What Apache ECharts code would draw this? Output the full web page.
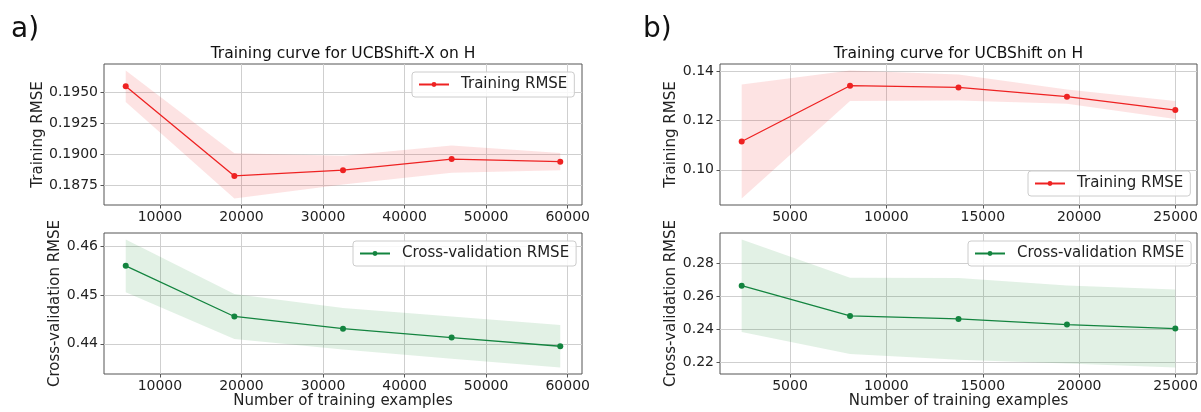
<!DOCTYPE html>
<html>
<head>
<meta charset="utf-8">
<script src="https://cdn.jsdelivr.net/npm/echarts@6/dist/echarts.min.js"></script>
<style>
  html, body { margin: 0; padding: 0; background: #fff; }
  #chart { width: 1201px; height: 412px; }
</style>
</head>
<body>
<div id="chart"></div>
<script>
// a) UCBShift-X on H : learning curve (mean and spread per training size)
const sizesA      = [5810, 19130, 32450, 45770, 59090];
const trainMeanA  = [0.19552, 0.18828, 0.18874, 0.18964, 0.18943];
const trainStdA   = [0.00127, 0.00183, 0.00116, 0.00110, 0.00069];
const cvMeanA     = [0.45593, 0.44559, 0.44309, 0.44128, 0.43951];
const cvStdA      = [0.00540, 0.00459, 0.00423, 0.00430, 0.00436];

// b) UCBShift on H
const sizesB      = [2495, 8115, 13740, 19365, 24985];
const trainMeanB  = [0.11147, 0.13410, 0.13341, 0.12966, 0.12424];
const trainStdB   = [0.02316, 0.00621, 0.00526, 0.00289, 0.00368];
const cvMeanB     = [0.26648, 0.24812, 0.24630, 0.24285, 0.24042];
const cvStdB      = [0.02819, 0.02322, 0.02485, 0.02376, 0.02376];

// tick positions
const xTicksA      = [10000, 20000, 30000, 40000, 50000, 60000];
const xTicksB      = [5000, 10000, 15000, 20000, 25000];
const yTicksTrainA = [0.1875, 0.1900, 0.1925, 0.1950];
const yTicksCvA    = [0.44, 0.45, 0.46];
const yTicksTrainB = [0.10, 0.12, 0.14];
const yTicksCvB    = [0.22, 0.24, 0.26, 0.28];

const TITLE_A = 'Training curve for UCBShift-X on H';
const TITLE_B = 'Training curve for UCBShift on H';
const X_NAME = 'Number of training examples';
const TRAIN_NAME = 'Training RMSE';
const CV_NAME = 'Cross-validation RMSE';

const FONT = 'DejaVu Sans';
const RED = '#ee2222';
const RED_FILL = 'rgba(240,40,40,0.13)';
const GREEN = '#13843f';
const GREEN_FILL = 'rgba(20,140,40,0.12)';

// axis range with a 5% margin around the data (as matplotlib autoscale does)
function padded(lo, hi) {
  const d = (hi - lo) * 0.05;
  return [lo - d, hi + d];
}

const grids = [];
const xAxes = [];
const yAxes = [];
const series = [];
const legends = [];

function panel(cfg) {
  const i = grids.length;
  grids.push({
    left: cfg.left, top: cfg.top, width: cfg.width, height: 141,
    show: true, borderColor: '#555', borderWidth: 1, backgroundColor: 'transparent'
  });
  const lows = cfg.mean.map((m, k) => m - cfg.std[k]);
  const highs = cfg.mean.map((m, k) => m + cfg.std[k]);
  const xr = padded(Math.min(...cfg.sizes), Math.max(...cfg.sizes));
  const yr = padded(Math.min(...lows), Math.max(...highs));

  xAxes.push({
    type: 'value', gridIndex: i, min: xr[0], max: xr[1],
    axisLine: { show: false },
    axisTick: { show: true, length: 3.5, customValues: cfg.xTicks, lineStyle: { color: '#555' } },
    axisLabel: { customValues: cfg.xTicks, color: '#222', fontFamily: FONT, fontSize: 14, margin: 5,
                 formatter: v => String(Math.round(v)) },
    splitLine: { show: true, lineStyle: { color: '#cfcfcf', width: 1 } },
    name: cfg.xName || '', nameLocation: 'middle', nameGap: 20,
    nameTextStyle: { color: '#222', fontFamily: FONT, fontSize: 15, verticalAlign: 'top' }
  });
  yAxes.push({
    type: 'value', gridIndex: i, min: yr[0], max: yr[1],
    axisLine: { show: false },
    axisTick: { show: true, length: 3.5, customValues: cfg.yTicks, lineStyle: { color: '#555' } },
    axisLabel: { customValues: cfg.yTicks, color: '#222', fontFamily: FONT, fontSize: 14, margin: 6,
                 formatter: v => v.toFixed(cfg.digits) },
    splitLine: { show: true, lineStyle: { color: '#cfcfcf', width: 1 } },
    name: cfg.yName, nameLocation: 'middle', nameGap: cfg.yNameGap,
    nameTextStyle: { color: '#222', fontFamily: FONT, fontSize: 15 }
  });

  // shaded band between mean - std and mean + std, drawn as one polygon
  const bandData = cfg.sizes.map((x, k) => [x, lows[k], highs[k]]);
  series.push({
    type: 'custom', xAxisIndex: i, yAxisIndex: i, silent: true, z: 1,
    data: bandData,
    encode: { x: 0, y: [1, 2] },
    renderItem: (params, api) => {
      if (params.dataIndex !== 0) return null;
      const upper = bandData.map(d => api.coord([d[0], d[2]]));
      const lower = bandData.map(d => api.coord([d[0], d[1]])).reverse();
      return {
        type: 'polygon',
        shape: { points: upper.concat(lower) },
        style: { fill: cfg.fill }
      };
    }
  });
  // mean curve
  series.push({
    type: 'line', name: cfg.name, xAxisIndex: i, yAxisIndex: i,
    data: cfg.sizes.map((x, k) => [x, cfg.mean[k]]),
    symbol: 'circle', symbolSize: 6,
    itemStyle: { color: cfg.color },
    lineStyle: { color: cfg.color, width: 1.3 }, z: 3
  });

  legends.push({
    data: [cfg.name], left: cfg.legend[0], top: cfg.legend[1],
    orient: 'vertical', selectedMode: false,
    itemWidth: 30, itemHeight: 6,
    padding: [5, 7, 5, 6],
    backgroundColor: 'rgba(255,255,255,0.85)',
    borderColor: '#cccccc', borderWidth: 1, borderRadius: 3,
    textStyle: { color: '#222', fontFamily: FONT, fontSize: 15, padding: [0, 0, 0, 7] }
  });
}

panel({ left: 104, top: 64, width: 478, sizes: sizesA, mean: trainMeanA, std: trainStdA,
        color: RED, fill: RED_FILL, name: TRAIN_NAME, xTicks: xTicksA, yTicks: yTicksTrainA,
        digits: 4, yName: 'Training RMSE', yNameGap: 55, legend: [412, 72] });
panel({ left: 104, top: 233, width: 478, sizes: sizesA, mean: cvMeanA, std: cvStdA,
        color: GREEN, fill: GREEN_FILL, name: CV_NAME, xTicks: xTicksA, yTicks: yTicksCvA,
        digits: 2, yName: 'Cross-validation RMSE', yNameGap: 39, legend: [353, 241], xName: X_NAME });
panel({ left: 720, top: 64, width: 477, sizes: sizesB, mean: trainMeanB, std: trainStdB,
        color: RED, fill: RED_FILL, name: TRAIN_NAME, xTicks: xTicksB, yTicks: yTicksTrainB,
        digits: 2, yName: 'Training RMSE', yNameGap: 40, legend: [1028, 171] });
panel({ left: 720, top: 233, width: 477, sizes: sizesB, mean: cvMeanB, std: cvStdB,
        color: GREEN, fill: GREEN_FILL, name: CV_NAME, xTicks: xTicksB, yTicks: yTicksCvB,
        digits: 2, yName: 'Cross-validation RMSE', yNameGap: 40, legend: [968, 241], xName: X_NAME });

const chart = echarts.init(document.getElementById('chart'), null, { renderer: 'canvas' });
chart.setOption({
  animation: false,
  backgroundColor: '#fff',
  grid: grids,
  xAxis: xAxes,
  yAxis: yAxes,
  legend: legends,
  series: series,
  graphic: [
    { type: 'text', x: 11, y: 30, style: { text: 'a)', font: '28px "DejaVu Sans"', fill: '#111', textVerticalAlign: 'middle' } },
    { type: 'text', x: 643, y: 30, style: { text: 'b)', font: '28px "DejaVu Sans"', fill: '#111', textVerticalAlign: 'middle' } },
    { type: 'text', x: 343, y: 54, style: { text: TITLE_A, font: '15.5px "DejaVu Sans"', fill: '#111', textAlign: 'center', textVerticalAlign: 'middle' } },
    { type: 'text', x: 958.5, y: 54, style: { text: TITLE_B, font: '15.5px "DejaVu Sans"', fill: '#111', textAlign: 'center', textVerticalAlign: 'middle' } }
  ]
});
</script>
</body>
</html>
